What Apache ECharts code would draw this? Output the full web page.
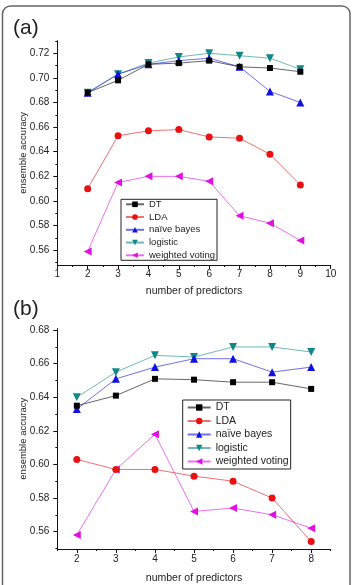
<!DOCTYPE html>
<html>
<head>
<meta charset="utf-8">
<script src="https://cdn.jsdelivr.net/npm/echarts@6/dist/echarts.min.js"></script>
<style>
html,body{margin:0;padding:0;background:#fff;}
#main{width:353px;height:585px;}
</style>
</head>
<body>
<div id="main"></div>
<script>
// panel (a)
var xA=[2,3,4,5,6,7,8,9];
var dtA=[0.688,0.698,0.711,0.712,0.714,0.709,0.708,0.705];
var ldaA=[0.610,0.653,0.657,0.658,0.652,0.651,0.638,0.613];
var nbA=[0.688,0.703,0.711,0.714,0.716,0.709,0.689,0.680];
var logA=[0.688,0.703,0.712,0.717,0.720,0.718,0.716,0.707];
var wvA=[0.559,0.615,0.620,0.620,0.616,0.588,0.582,0.568];
var yTicksA=[0.56,0.58,0.60,0.62,0.64,0.66,0.68,0.70,0.72];
var yMinorA=[0.55,0.57,0.59,0.61,0.63,0.65,0.67,0.69,0.71,0.73];

// panel (b)
var xB=[2,3,4,5,6,7,8];
var xMinorB=[1.5,2.5,3.5,4.5,5.5,6.5,7.5,8.5];
var dtB=[0.635,0.641,0.651,0.6505,0.649,0.649,0.645];
var ldaB=[0.603,0.597,0.597,0.593,0.590,0.580,0.554];
var nbB=[0.633,0.651,0.658,0.663,0.663,0.655,0.658];
var logB=[0.640,0.655,0.665,0.664,0.670,0.670,0.667];
var wvB=[0.558,0.597,0.618,0.572,0.574,0.570,0.562];
var yTicksB=[0.56,0.58,0.60,0.62,0.64,0.66,0.68];
var yMinorB=[0.55,0.57,0.59,0.61,0.63,0.65,0.67];

var names=['DT','LDA','naïve bayes','logistic','weighted voting'];
var colors=['#000000','#e81010','#1010e0','#108888','#e010e0'];
var symbols=['rect','circle','triangle','triangle','triangle'];
var rotates=[0,0,0,180,90];
var sizes=[6,7,8,8,8];

var font='Liberation Sans, Arial, sans-serif';

function pairs(xs,ys){
	var out=[];
	for(var i=0;i<xs.length;i++){
		out.push([xs[i],ys[i]]);
	}
	return out;
}

function mkSeries(idx,xs,ys,xi,yi){
	return {
		name:names[idx],
		type:'line',
		xAxisIndex:xi,
		yAxisIndex:yi,
		data:pairs(xs,ys),
		symbol:symbols[idx],
		symbolRotate:rotates[idx],
		symbolSize:sizes[idx],
		itemStyle:{color:colors[idx]},
		lineStyle:{color:colors[idx],width:1,opacity:0.6},
		z:10-idx,
		animation:false
	};
}

function mainX(grid,min,max,labels,nameGap,margin){
	return {
		type:'value',gridIndex:grid,position:'bottom',min:min,max:max,
		splitLine:{show:false},
		axisLine:{lineStyle:{color:'#111',width:1}},
		axisTick:{length:4,lineStyle:{color:'#111'},customValues:labels},
		axisLabel:{customValues:labels,color:'#222',fontSize:10,fontFamily:font,margin:margin},
		name:'number of predictors',nameLocation:'middle',nameGap:nameGap,nameMoveOverlap:false,
		nameTextStyle:{color:'#222',fontSize:10.5,fontFamily:font}
	};
}
function minorX(grid,min,max,vals){
	return {
		type:'value',gridIndex:grid,position:'bottom',min:min,max:max,
		splitLine:{show:false},axisLine:{show:false},
		axisTick:{length:2,lineStyle:{color:'#111'},customValues:vals},
		axisLabel:{show:false}
	};
}
function mainY(grid,min,max,labels){
	return {
		type:'value',gridIndex:grid,position:'left',min:min,max:max,
		splitLine:{show:false},
		axisLine:{show:true,lineStyle:{color:'#111',width:1}},
		axisTick:{show:true,length:4,lineStyle:{color:'#111'},customValues:labels},
		axisLabel:{customValues:labels,color:'#222',fontSize:10,fontFamily:font,margin:8,
			formatter:function(v){return v.toFixed(2);}},
		name:'ensemble accuracy',nameLocation:'middle',nameGap:29,nameMoveOverlap:false,
		nameTextStyle:{color:'#222',fontSize:9.5,fontFamily:font}
	};
}
function minorY(grid,min,max,vals){
	return {
		type:'value',gridIndex:grid,position:'left',min:min,max:max,
		splitLine:{show:false},axisLine:{show:false},
		axisTick:{show:true,length:2,lineStyle:{color:'#111'},customValues:vals},
		axisLabel:{show:false}
	};
}

var series=[];
var ysA=[dtA,ldaA,nbA,logA,wvA];
var ysB=[dtB,ldaB,nbB,logB,wvB];
for(var i=0;i<5;i++){
	series.push(mkSeries(i,xA,ysA[i],0,0));
}
for(var i=0;i<5;i++){
	series.push(mkSeries(i,xB,ysB[i],1,2));
}

var option={
	backgroundColor:'#fff',
	animation:false,
	grid:[
		{left:57.3,top:40.7,width:273.4,height:224.3},
		{left:57.3,top:328.5,width:273.4,height:224.2}
	],
	xAxis:[
		{
			type:'value',gridIndex:0,position:'bottom',min:1,max:10,interval:1,
			splitLine:{show:false},
			axisLine:{lineStyle:{color:'#111',width:1}},
			axisTick:{length:4,lineStyle:{color:'#111'}},
			minorTick:{show:true,splitNumber:2,length:2,lineStyle:{color:'#111'}},
			axisLabel:{color:'#222',fontSize:10,fontFamily:font,margin:4},
			name:'number of predictors',nameLocation:'middle',nameGap:21,nameMoveOverlap:false,
			nameTextStyle:{color:'#222',fontSize:10.5,fontFamily:font}
		},
		mainX(1,1.5,8.5,xB,24,5),
		minorX(1,1.5,8.5,xMinorB)
	],
	yAxis:[
		mainY(0,0.548,0.7302,yTicksA),
		minorY(0,0.548,0.7302,yMinorA),
		mainY(1,0.5496,0.681,yTicksB),
		minorY(1,0.5496,0.681,yMinorB)
	],
	legend:[
		{
			orient:'vertical',left:121,top:199.3,
			data:names,
			itemWidth:18,itemHeight:7,itemGap:2.75,
			padding:[0,2,0,4],
			borderColor:'#222',borderWidth:1,
			textStyle:{color:'#222',fontSize:9.5,fontFamily:font,lineHeight:9}
		},
		{
			orient:'vertical',left:182.7,top:400,
			data:names,
			itemWidth:23,itemHeight:8,itemGap:2.5,
			padding:[2,2,2,4],
			borderColor:'#222',borderWidth:1,
			textStyle:{color:'#222',fontSize:10.5,fontFamily:font,lineHeight:10.5}
		}
	],
	graphic:[
		{type:'rect',shape:{x:2.5,y:6,width:347.5,height:600,r:8},
			style:{fill:'none',stroke:'#666',lineWidth:1.5},silent:true},
		{type:'text',left:13,top:18,style:{text:'(a)',fontSize:21,fontFamily:font,fill:'#222'}},
		{type:'text',left:13,top:299,style:{text:'(b)',fontSize:21,fontFamily:font,fill:'#222'}}
	],
	series:series
};

var mychart=echarts.init(document.getElementById('main'),null,{renderer:'canvas'});
mychart.setOption(option);
</script>
</body>
</html>
